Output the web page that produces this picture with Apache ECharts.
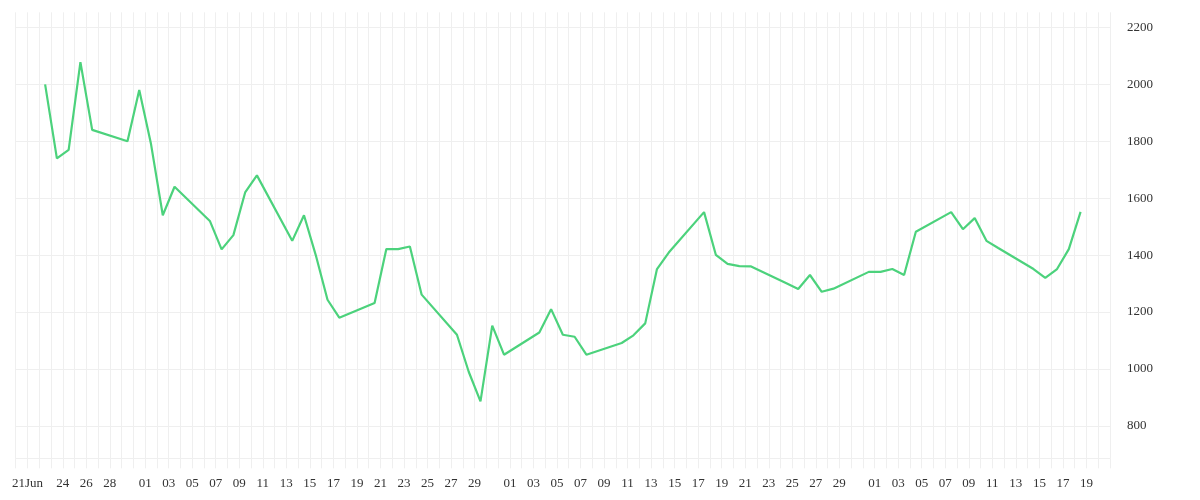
<!DOCTYPE html>
<html>
<head>
<meta charset="utf-8">
<script src="https://cdn.jsdelivr.net/npm/echarts@6/dist/echarts.min.js"></script>
<style>
  html, body { margin: 0; padding: 0; background: #fff; }
  #chart { width: 1200px; height: 500px; }
</style>
</head>
<body>
<div id="chart"></div>
<script>
// trading days and closing values
const dates = [
  '2020-06-22', '2020-06-23', '2020-06-24', '2020-06-25', '2020-06-26',
  '2020-06-29', '2020-06-30', '2020-07-01', '2020-07-02', '2020-07-03',
  '2020-07-06', '2020-07-07', '2020-07-08', '2020-07-09', '2020-07-10',
  '2020-07-13', '2020-07-14', '2020-07-15', '2020-07-16', '2020-07-17',
  '2020-07-20', '2020-07-21', '2020-07-22', '2020-07-23', '2020-07-24',
  '2020-07-27', '2020-07-28', '2020-07-29', '2020-07-30', '2020-07-31',
  '2020-08-03', '2020-08-04', '2020-08-05', '2020-08-06', '2020-08-07',
  '2020-08-10', '2020-08-11', '2020-08-12', '2020-08-13', '2020-08-14',
  '2020-08-17', '2020-08-18', '2020-08-19', '2020-08-20', '2020-08-21',
  '2020-08-24', '2020-08-25', '2020-08-26', '2020-08-27', '2020-08-28',
  '2020-08-31', '2020-09-01', '2020-09-02', '2020-09-03', '2020-09-04',
  '2020-09-07', '2020-09-08', '2020-09-09', '2020-09-10', '2020-09-11',
  '2020-09-14', '2020-09-15', '2020-09-16', '2020-09-17', '2020-09-18'
]
const values = [
  2000, 1740, 1770, 2078, 1840,
  1800, 1980, 1790, 1540, 1640,
  1520, 1420, 1470, 1620, 1680,
  1450, 1540, 1400, 1243, 1180,
  1232, 1421, 1421, 1430, 1261,
  1120, 990, 886, 1152, 1050,
  1128, 1210, 1120, 1113, 1050,
  1091, 1118, 1160, 1351, 1409,
  1551, 1401, 1369, 1361, 1360,
  1301, 1281, 1330, 1271, 1282,
  1341, 1341, 1351, 1330, 1482,
  1551, 1491, 1530, 1450, 1425,
  1351, 1320, 1351, 1421, 1552
]

// labelled days on the x axis
const labelDates = [
  '2020-06-21', '2020-06-24', '2020-06-26', '2020-06-28',
  '2020-07-01', '2020-07-03', '2020-07-05', '2020-07-07', '2020-07-09', '2020-07-11',
  '2020-07-13', '2020-07-15', '2020-07-17', '2020-07-19', '2020-07-21', '2020-07-23',
  '2020-07-25', '2020-07-27', '2020-07-29',
  '2020-08-01', '2020-08-03', '2020-08-05', '2020-08-07', '2020-08-09', '2020-08-11',
  '2020-08-13', '2020-08-15', '2020-08-17', '2020-08-19', '2020-08-21', '2020-08-23',
  '2020-08-25', '2020-08-27', '2020-08-29',
  '2020-09-01', '2020-09-03', '2020-09-05', '2020-09-07', '2020-09-09', '2020-09-11',
  '2020-09-13', '2020-09-15', '2020-09-17', '2020-09-19'
]
const yTicks = [800, 1000, 1200, 1400, 1600, 1800, 2000, 2200]

const xStart = '2020-06-20'
const xEnd = '2020-09-21'
const yMin = 686
const yMax = 2253

const toTime = (s, h) => {
  const p = s.split('-').map(Number)
  return new Date(p[0], p[1] - 1, p[2], h || 0).getTime()
}

const DAY = 24 * 3600 * 1000
const minT = toTime(xStart)
const maxT = toTime(xEnd)
// one grid line per day
const dayTicks = []
for (let t = minT; t <= maxT + 1000; t += DAY) {
  const d = new Date(t)
  dayTicks.push(new Date(d.getFullYear(), d.getMonth(), d.getDate()).getTime())
}

const seriesData = dates.map((d, i) => [toTime(d, 12), values[i]])
const gridColor = '#efefef'
const textStyle = { color: '#333', fontFamily: 'Liberation Serif', fontSize: 13 }

const myChart = echarts.init(document.getElementById('chart'))
myChart.setOption({
  animation: false,
  grid: { left: 15.7, right: 90, top: 12.3, bottom: 41.7 },
  xAxis: {
    type: 'value',
    min: minT,
    max: maxT,
    axisLine: { show: true, lineStyle: { color: gridColor, width: 1 } },
    axisTick: {
      show: true,
      length: 10,
      customValues: dayTicks,
      lineStyle: { color: gridColor, width: 1 }
    },
    splitLine: { show: true, lineStyle: { color: gridColor, width: 1 } },
    axisLabel: {
      ...textStyle,
      margin: 19,
      customValues: labelDates.map(d => toTime(d)),
      formatter: (v) => {
        const d = new Date(v)
        const day = String(d.getDate()).padStart(2, '0')
        return d.getTime() === toTime(labelDates[0]) ? day + 'Jun' : day
      }
    }
  },
  yAxis: {
    type: 'value',
    position: 'right',
    min: yMin,
    max: yMax,
    axisLine: { show: false },
    axisTick: { show: false, customValues: yTicks },
    splitLine: { show: true, lineStyle: { color: gridColor, width: 1 } },
    axisLabel: {
      ...textStyle,
      margin: 17,
      customValues: yTicks,
      formatter: (v) => String(v)
    }
  },
  series: [
    {
      type: 'line',
      data: seriesData,
      showSymbol: false,
      symbol: 'none',
      lineStyle: { color: '#4cd27c', width: 2.2 },
      itemStyle: { color: '#4cd27c' }
    }
  ]
})
</script>
</body>
</html>
